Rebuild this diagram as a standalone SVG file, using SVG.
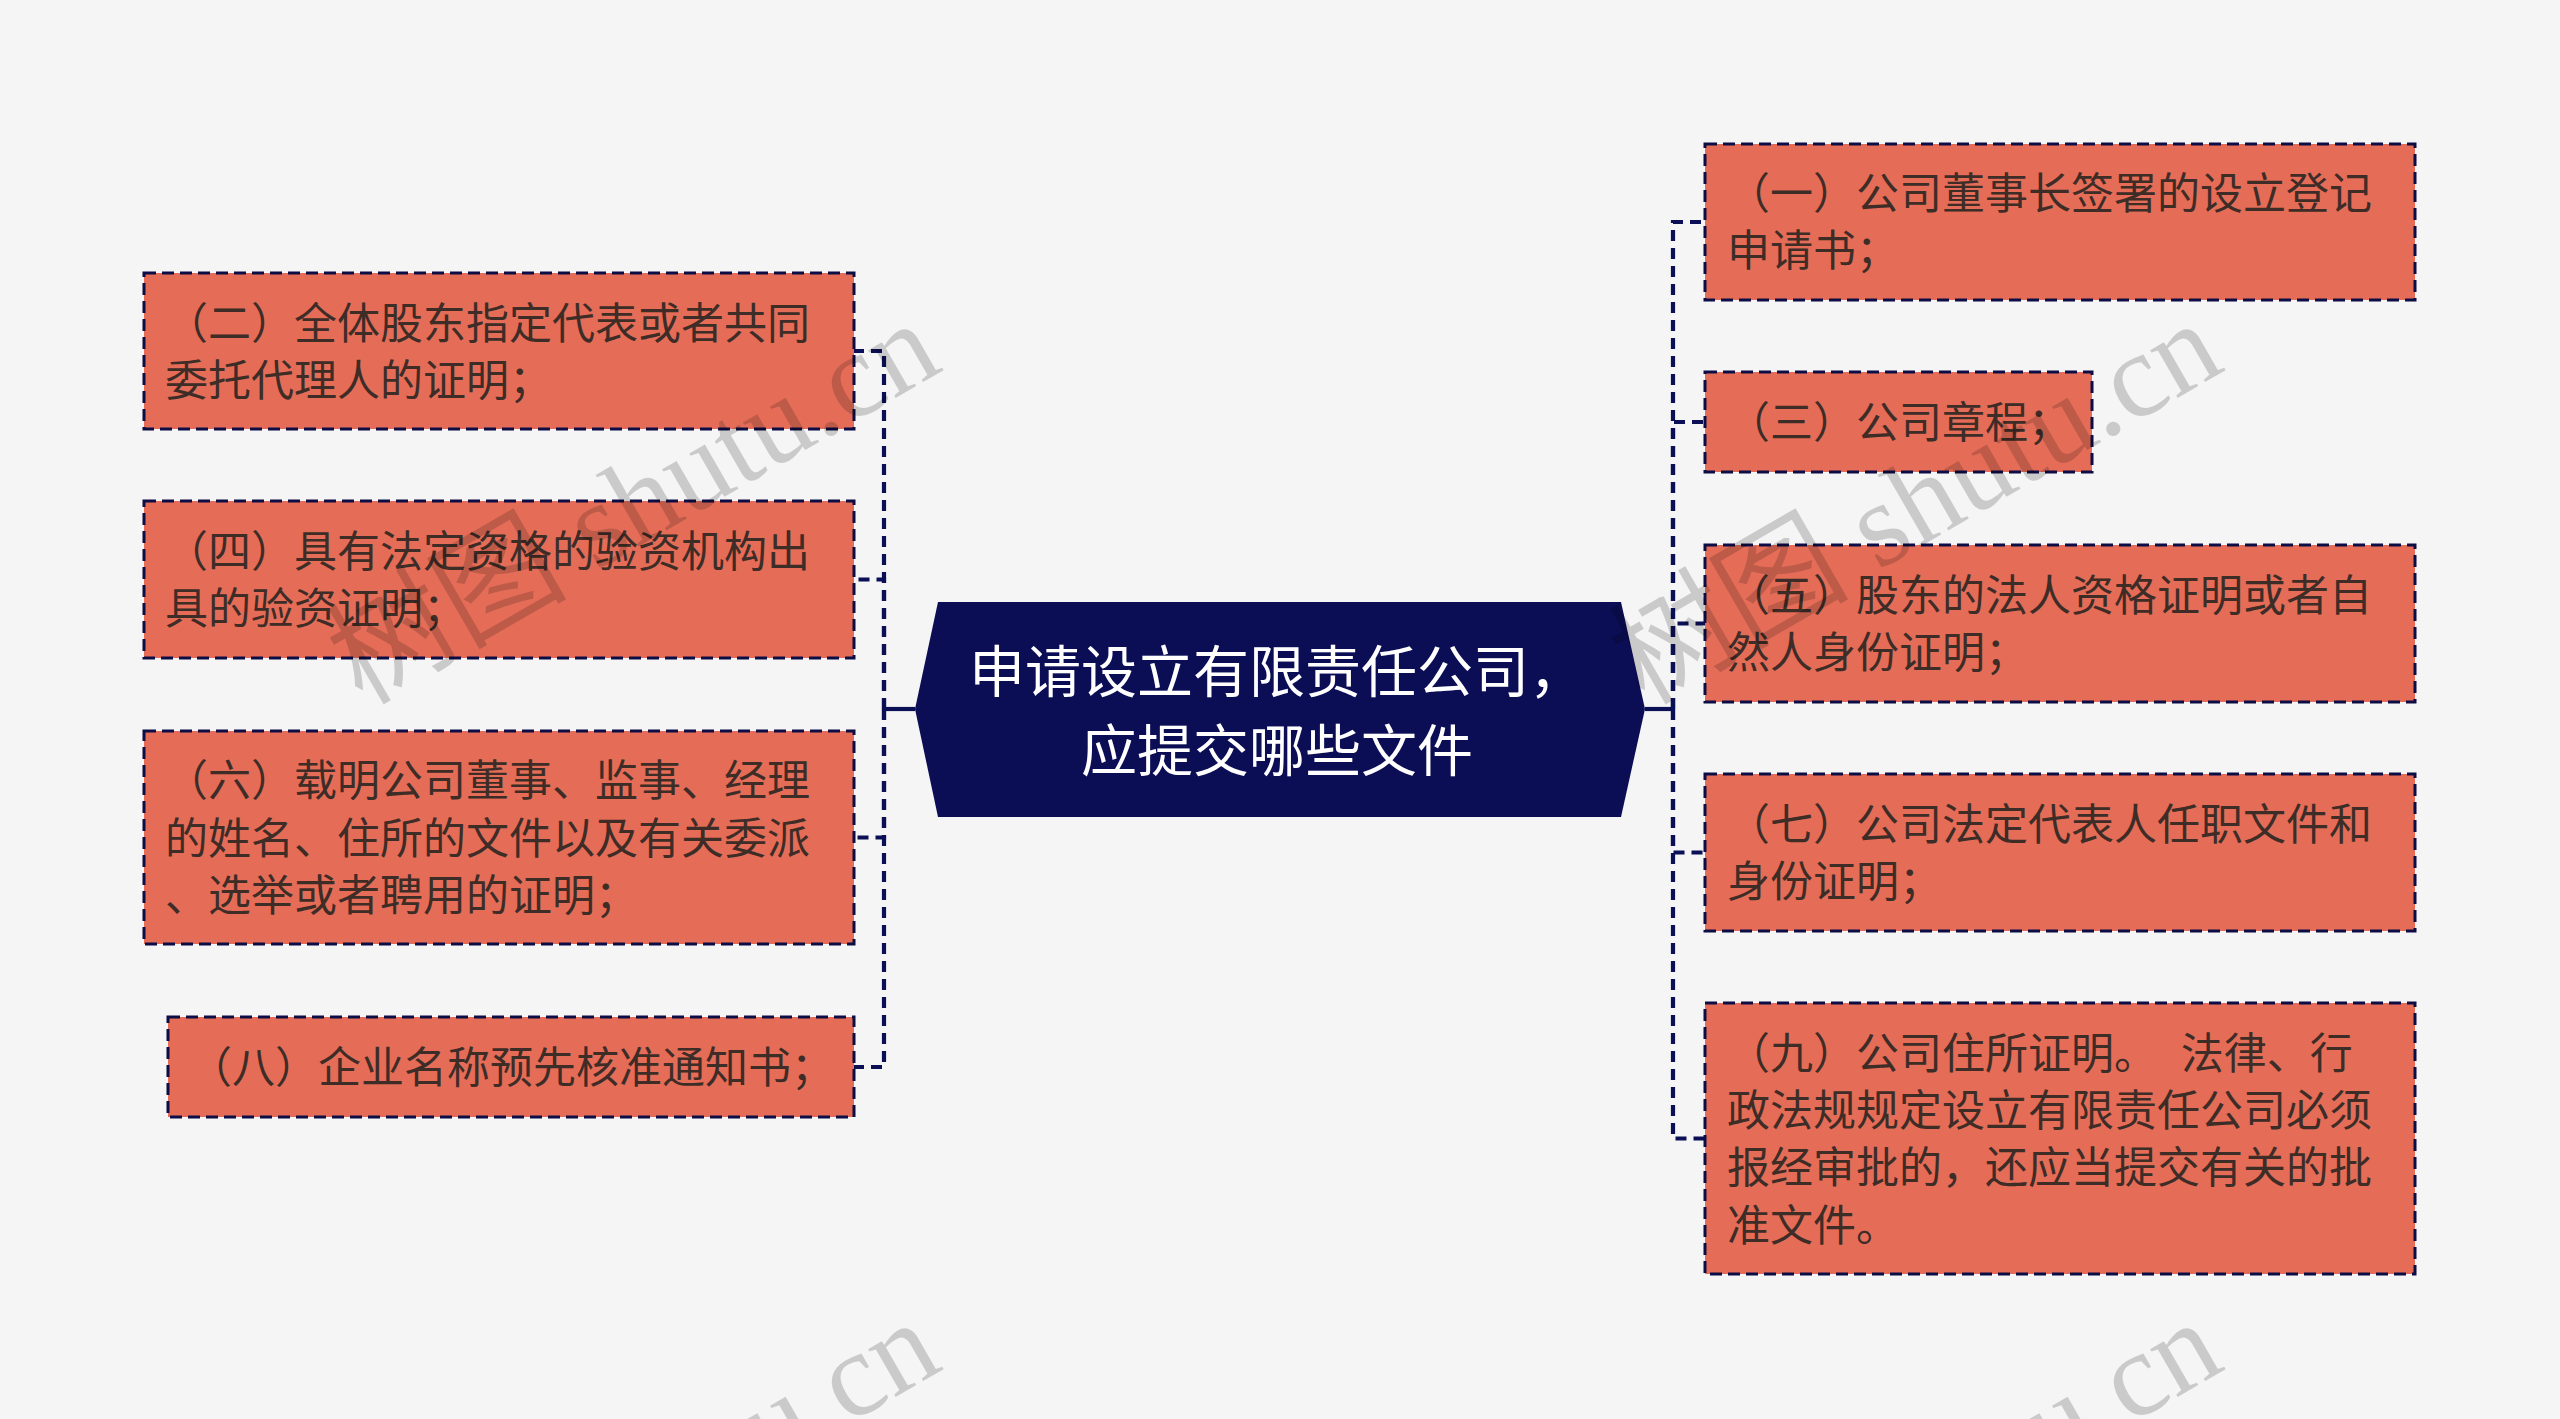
<svg xmlns="http://www.w3.org/2000/svg" width="2560" height="1419" viewBox="0 0 2560 1419">
<style>
.bg{fill:#f5f5f5}
.box{fill:#e56d58;stroke:#0d0d45;stroke-width:3;stroke-dasharray:12 6}
.t{font-family:"Noto Sans CJK SC","Noto Sans",sans-serif;font-size:43px;fill:#3e2c27}
.ct{font-family:"Noto Sans CJK SC","Noto Sans",sans-serif;font-size:56px;fill:#ffffff;text-anchor:middle}
.center{fill:#0b0e55}
.conn{fill:none;stroke:#0b0f55;stroke-width:4.2;stroke-dasharray:11 7}
.solid{fill:none;stroke:#0b0f55;stroke-width:4.2}
.wm{font-family:"Liberation Serif","Noto Sans CJK SC",serif;font-size:120px;fill:#000000;opacity:0.17}
</style>
<rect class="bg" x="0" y="0" width="2560" height="1419"/>
<g id="connectors">
<path class="solid" d="M915 709 H884"/>
<path class="conn" d="M884 709 V351 H854"/>
<path class="conn" d="M884 709 V579.5 H854"/>
<path class="conn" d="M884 709 V837.5 H854"/>
<path class="conn" d="M884 709 V1067 H854"/>
<path class="solid" d="M1645 709 H1673"/>
<path class="conn" d="M1673 709 V222 H1705"/>
<path class="conn" d="M1673 709 V422 H1705"/>
<path class="conn" d="M1673 709 V623.5 H1705"/>
<path class="conn" d="M1673 709 V852.5 H1705"/>
<path class="conn" d="M1673 709 V1138.5 H1705"/>
</g>
<g id="root">
<polygon class="center" points="938,602 1621,602 1645,709 1621,817 938,817 915,709"/>
<text class="ct" x="1277" y="692">申请设立有限责任公司，</text>
<text class="ct" x="1277" y="771">应提交哪些文件</text>
</g>
<g id="n2">
<rect class="box" x="144" y="273" width="710" height="156"/>
<text class="t" x="165" y="339">（二）全体股东指定代表或者共同</text>
<text class="t" x="165" y="396">委托代理人的证明；</text>
</g>
<g id="n4">
<rect class="box" x="144" y="501" width="710" height="157"/>
<text class="t" x="165" y="567">（四）具有法定资格的验资机构出</text>
<text class="t" x="165" y="624">具的验资证明；</text>
</g>
<g id="n6">
<rect class="box" x="144" y="731" width="710" height="213"/>
<text class="t" x="165" y="796">（六）载明公司董事、监事、经理</text>
<text class="t" x="165" y="854">的姓名、住所的文件以及有关委派</text>
<text class="t" x="165" y="911">、选举或者聘用的证明；</text>
</g>
<g id="n8">
<rect class="box" x="168" y="1017" width="686" height="100"/>
<text class="t" x="189" y="1083">（八）企业名称预先核准通知书；</text>
</g>
<g id="n1">
<rect class="box" x="1705" y="144" width="710" height="156"/>
<text class="t" x="1727" y="209">（一）公司董事长签署的设立登记</text>
<text class="t" x="1727" y="266">申请书；</text>
</g>
<g id="n3">
<rect class="box" x="1705" y="372" width="387" height="100"/>
<text class="t" x="1727" y="438">（三）公司章程；</text>
</g>
<g id="n5">
<rect class="box" x="1705" y="545" width="710" height="157"/>
<text class="t" x="1727" y="611">（五）股东的法人资格证明或者自</text>
<text class="t" x="1727" y="668">然人身份证明；</text>
</g>
<g id="n7">
<rect class="box" x="1705" y="774" width="710" height="157"/>
<text class="t" x="1727" y="840">（七）公司法定代表人任职文件和</text>
<text class="t" x="1727" y="897">身份证明；</text>
</g>
<g id="n9">
<rect class="box" x="1705" y="1003" width="710" height="271"/>
<text class="t" x="1727" y="1069" xml:space="preserve" word-spacing="14">（九）公司住所证明。 法律、行</text>
<text class="t" x="1727" y="1126">政法规规定设立有限责任公司必须</text>
<text class="t" x="1727" y="1183">报经审批的，还应当提交有关的批</text>
<text class="t" x="1727" y="1241">准文件。</text>
</g>
<g id="watermarks">
<text class="wm" transform="translate(362 706) rotate(-30)">树图 shutu.cn</text>
<text class="wm" transform="translate(1644 706) rotate(-30)">树图 shutu.cn</text>
<text class="wm" transform="translate(362 1705) rotate(-30)">树图 shutu.cn</text>
<text class="wm" transform="translate(1644 1705) rotate(-30)">树图 shutu.cn</text>
</g>
</svg>
